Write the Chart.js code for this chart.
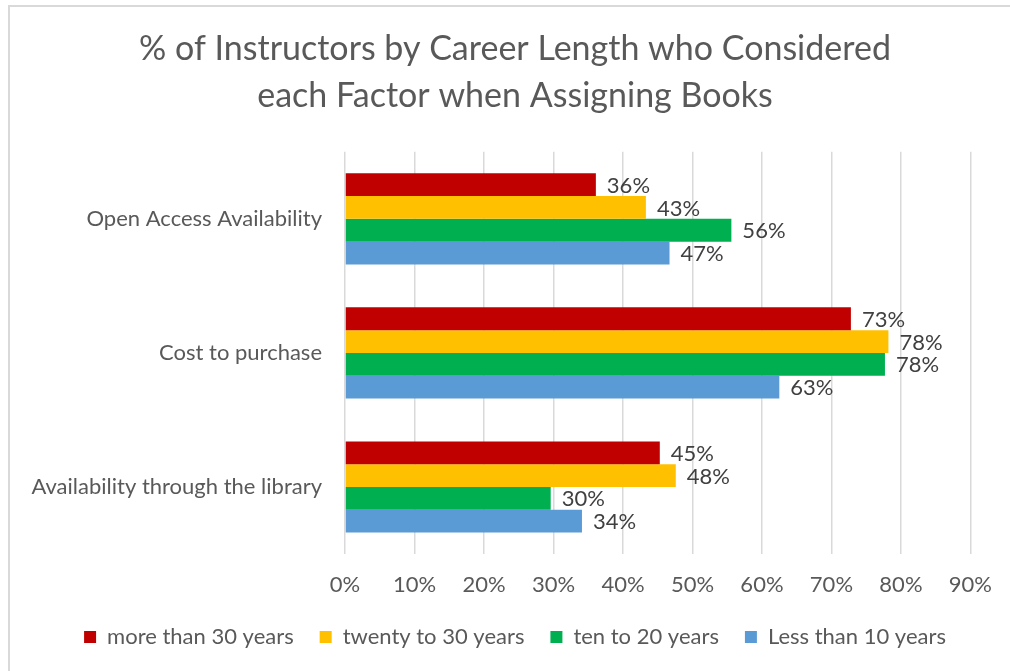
<!DOCTYPE html>
<html>
<head>
<meta charset="utf-8">
<script src="https://cdn.jsdelivr.net/npm/chart.js@4/dist/chart.umd.min.js"></script>
<style>
    html, body { margin: 0; padding: 0; background: #ffffff; }
    #wrap { position: relative; width: 1010px; height: 671px; overflow: hidden; }
    #frame {
        position: absolute; left: 8px; top: 5px; width: 1010px; height: 680px;
        border-top: 2px solid #d9d9d9; border-left: 2px solid #d9d9d9;
    }
    #chart { position: absolute; left: 0; top: 0; }
</style>
</head>
<body>
<div id="wrap">
    <div id="frame"></div>
    <canvas id="chart" width="1010" height="671"></canvas>
</div>
<script>
// Data
const categories = ['Open Access Availability', 'Cost to purchase', 'Availability through the library'];
const seriesNames = ['more than 30 years', 'twenty to 30 years', 'ten to 20 years', 'Less than 10 years'];
const moreThan30 = [36.1, 72.8, 45.3];
const twentyTo30 = [43.3, 78.2, 47.6];
const tenTo20 = [55.6, 77.7, 29.6];
const lessThan10 = [46.7, 62.5, 34.1];
const xTicks = [0, 10, 20, 30, 40, 50, 60, 70, 80, 90];

const colors = ['#C00000', '#FFC000', '#00B050', '#5B9BD5'];
const FONT = 'Lato';
const TEXT = '#595959';
const SIZE = 22;

// Simple value labels at the end of each bar
const barLabels = {
    id: 'barLabels',
    afterDatasetsDraw(chart) {
        const ctx = chart.ctx;
        ctx.save();
        ctx.font = SIZE + 'px ' + FONT;
        ctx.fillStyle = '#404040';
        ctx.textAlign = 'left';
        ctx.textBaseline = 'middle';
        chart.data.datasets.forEach((ds, i) => {
            const meta = chart.getDatasetMeta(i);
            meta.data.forEach((bar, j) => {
                ctx.fillText(Math.round(ds.data[j]) + '%', bar.x + 11, bar.y + 1);
            });
        });
        ctx.restore();
    }
};

// Let the long category label run into the left padding instead of being clipped
const wideLabels = {
    id: 'wideLabels',
    afterLayout(chart) {
        chart.scales.y.left = 0;
    }
};

const seriesData = [moreThan30, twentyTo30, tenTo20, lessThan10];

new Chart(document.getElementById('chart'), {
    type: 'bar',
    data: {
        labels: categories,
        datasets: seriesNames.map((name, i) => ({
            label: name,
            data: seriesData[i],
            backgroundColor: colors[i],
            borderWidth: 0,
            categoryPercentage: 0.68,
            barPercentage: 1.0
        }))
    },
    options: {
        indexAxis: 'y',
        responsive: false,
        animation: false,
        layout: {
            padding: { left: 55, right: 35, top: 0, bottom: 13 }
        },
        plugins: {
            title: {
                display: true,
                text: ['% of Instructors by Career Length who Considered', 'each Factor when Assigning Books'],
                color: TEXT,
                font: { family: FONT, size: 34, weight: 'normal', lineHeight: 1.38 },
                padding: { top: 26, bottom: 32 }
            },
            legend: {
                position: 'bottom',
                labels: {
                    color: TEXT,
                    font: { family: FONT, size: SIZE },
                    boxWidth: 12,
                    boxHeight: 12,
                    padding: 26
                }
            },
            tooltip: { enabled: false }
        },
        scales: {
            x: {
                min: 0,
                max: 90,
                afterBuildTicks: (scale) => {
                    scale.ticks = xTicks.map(v => ({ value: v }));
                },
                afterFit: (scale) => { scale.height = 46; },
                grid: {
                    color: '#d9d9d9',
                    lineWidth: 1.5,
                    drawTicks: false
                },
                border: { display: false },
                ticks: {
                    color: TEXT,
                    font: { family: FONT, size: SIZE },
                    padding: 18,
                    callback: (v) => v + '%'
                }
            },
            y: {
                afterFit: (scale) => { scale.width = 290; },
                grid: { display: false, drawTicks: false },
                border: { display: false },
                ticks: {
                    color: TEXT,
                    font: { family: FONT, size: SIZE },
                    padding: 23
                }
            }
        }
    },
    plugins: [barLabels, wideLabels]
});
</script>
</body>
</html>
